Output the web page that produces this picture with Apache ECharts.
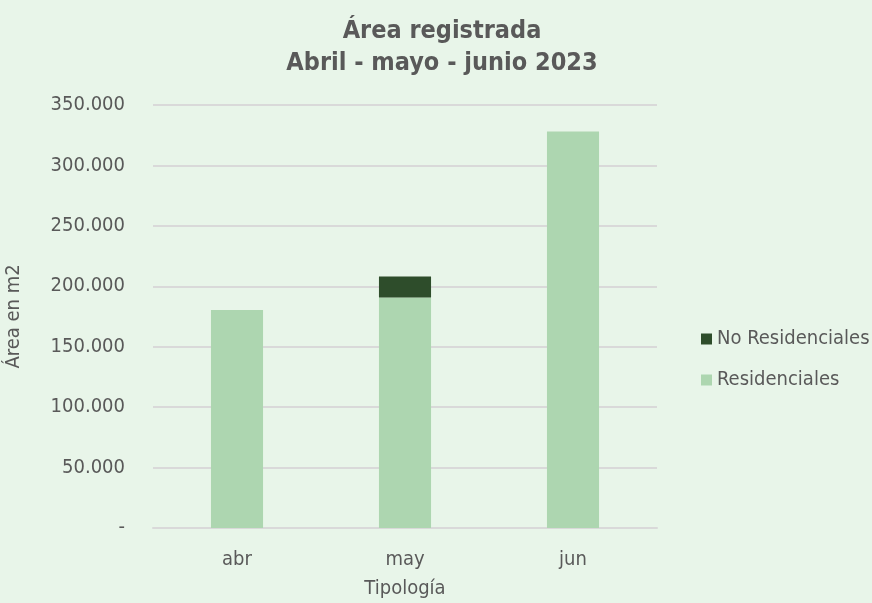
<!DOCTYPE html>
<html>
<head>
<meta charset="utf-8">
<script src="https://cdn.jsdelivr.net/npm/echarts@6/dist/echarts.min.js"></script>
<style>
  html, body { margin: 0; padding: 0; background: #e8f5e9; }
  #chart { width: 872px; height: 603px; }
</style>
</head>
<body>
<div id="chart"></div>
<script>
const categories = ['abr', 'may', 'jun']
const residenciales = [180400, 190800, 328000]
const noResidenciales = [0, 17400, 0]
const seriesNames = ['Residenciales', 'No Residenciales']

const textColor = '#595959'
const fontFamily = '"DejaVu Sans Condensed", Tahoma, sans-serif'

// 350000 -> "350.000", 0 -> "-"
function formatTick(v) {
  if (v === 0) return '-'
  return String(v).replace(/\B(?=(\d{3})+(?!\d))/g, '.')
}

const chart = echarts.init(document.getElementById('chart'))
chart.setOption({
  backgroundColor: '#e8f5e9',
  animation: false,
  textStyle: { fontFamily: fontFamily, color: textColor },
  title: {
    text: 'Área registrada\nAbril - mayo - junio 2023',
    left: 437,
    textAlign: 'center',
    top: 10,
    textStyle: {
      fontFamily: fontFamily,
      fontSize: 25,
      fontWeight: 'bold',
      color: textColor,
      lineHeight: 32
    }
  },
  legend: {
    orient: 'vertical',
    left: 696,
    top: 324,
    itemWidth: 11,
    itemHeight: 11,
    itemGap: 21,
    icon: 'rect',
    data: ['No Residenciales', 'Residenciales'],
    textStyle: { fontFamily: fontFamily, fontSize: 20, lineHeight: 20, color: textColor }
  },
  grid: {
    left: 153,
    right: 215,
    top: 105,
    bottom: 75,
    containLabel: false,
    outerBoundsMode: 'none'
  },
  xAxis: {
    type: 'category',
    data: categories,
    name: 'Tipología',
    nameLocation: 'middle',
    nameGap: 51,
    nameTextStyle: { fontFamily: fontFamily, fontSize: 20, color: textColor },
    axisLine: { lineStyle: { color: '#d9d9d9', width: 2 } },
    axisTick: { show: false },
    axisLabel: { fontFamily: fontFamily, fontSize: 20, color: textColor, margin: 22 }
  },
  yAxis: {
    type: 'value',
    min: 0,
    max: 350000,
    interval: 50000,
    name: 'Área en m2',
    nameLocation: 'middle',
    nameGap: 129,
    nameTextStyle: { fontFamily: fontFamily, fontSize: 20, color: textColor },
    axisLine: { show: false },
    axisTick: { show: false },
    splitLine: { lineStyle: { color: '#d9d9d9', width: 2 } },
    axisLabel: {
      fontFamily: fontFamily,
      fontSize: 20,
      color: textColor,
      margin: 28,
      formatter: formatTick
    }
  },
  series: [
    {
      name: seriesNames[0],
      type: 'bar',
      stack: 'total',
      barWidth: '31%',
      data: residenciales,
      itemStyle: { color: '#add6b0' }
    },
    {
      name: seriesNames[1],
      type: 'bar',
      stack: 'total',
      barWidth: '31%',
      data: noResidenciales,
      itemStyle: { color: '#2e4d2b' }
    }
  ]
})
</script>
</body>
</html>
